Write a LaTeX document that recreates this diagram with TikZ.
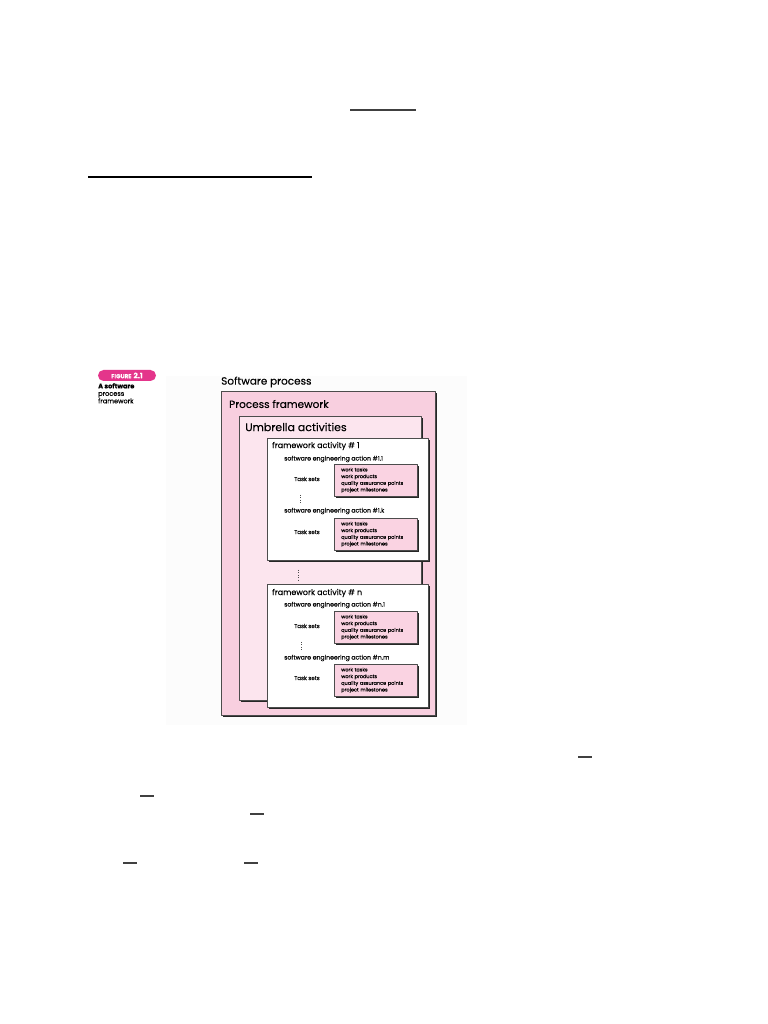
\documentclass[tikz,border=0pt]{standalone}
\usepackage{fontspec}
\setmainfont{Poppins}[FakeBold=0.15]
\usetikzlibrary{shadows}
\definecolor{outerpink}{HTML}{F8CFDF}
\definecolor{umbrellapink}{HTML}{FCE5EE}
\definecolor{taskpink}{HTML}{FAD3E2}
\definecolor{badgepink}{HTML}{E4358B}
\tikzset{
  panel/.style={draw=black!70,line width=0.5bp,anchor=north west,inner sep=0pt,
    drop shadow={shadow xshift=2bp,shadow yshift=-2bp,fill=black!85,opacity=1}},
  taskbox/.style={panel,fill=taskpink,minimum width=83bp,minimum height=32bp,
    text width=69bp,inner xsep=7bp,align=left,font=\fontsize{5}{6.7}\selectfont},
  label/.style={anchor=west,inner sep=0pt},
  bigtitle/.style={label,font=\fontsize{10.5}{12}\selectfont},
  acttitle/.style={label,font=\fontsize{8}{9}\selectfont},
  actiontitle/.style={label,font=\fontsize{6.2}{7}\selectfont},
  tasksets/.style={inner sep=0pt,font=\fontsize{5.6}{6.5}\selectfont},
  vdots/.style={line width=0.8bp,black!70,dash pattern=on 0.8bp off 1.6bp},
  stray/.style={line width=1.5bp,black!75},
}
\begin{document}
\begin{tikzpicture}[>=latex,line join=bevel,]
\useasboundingbox [fill=white] (0bp,0bp) rectangle (768bp,1024bp);
%% stray rules on the page
\draw [stray] (350bp,914bp) -- (416bp,914bp);
\draw [stray,line width=2bp,black] (88bp,847bp) -- (312bp,847bp);
\draw [stray] (578bp,267bp) -- (592bp,267bp);
\draw [stray] (140bp,228bp) -- (154bp,228bp);
\draw [stray] (250bp,210bp) -- (264bp,210bp);
\draw [stray] (123bp,161bp) -- (137bp,161bp);
\draw [stray] (244bp,161bp) -- (258bp,161bp);
%% figure tag
\fill [gray!2] (166bp,648bp) rectangle (467bp,299bp);
\node (fig_badge) at (127bp,648.5bp) [fill=badgepink,rounded corners=5.5bp,minimum width=58bp,minimum height=11bp,inner sep=0pt,text=white,font=\bfseries] {{\fontsize{5.8}{6}\selectfont FIGURE} {\fontsize{7.5}{8}\selectfont 2.1}};
\node (fig_caption) at (98bp,641bp) [anchor=north west,align=left,inner sep=0pt,font=\fontsize{6.6}{7.5}\selectfont] {\textbf{A software}\\process\\framework};
%% nested boxes
\node (process_box) at (221bp,633bp) [panel,fill=outerpink,minimum width=214bp,minimum height=324bp] {};
\node (umbrella_box) at (239bp,608bp) [panel,fill=umbrellapink,minimum width=182bp,minimum height=284bp] {};
\node (activity_1) at (267bp,586bp) [panel,fill=white,minimum width=161bp,minimum height=122bp] {};
\node (activity_n) at (267bp,440bp) [panel,fill=white,minimum width=161bp,minimum height=123bp] {};
%
\node (software_process) at (221bp,642bp) [bigtitle] {Software process};
\node (process_framework) at (229bp,620bp) [bigtitle] {Process framework};
\node (umbrella_activities) at (245bp,597bp) [bigtitle,font=\fontsize{11}{12}\selectfont] {Umbrella activities};
%% framework activity 1
\node (act_1_title) at (272bp,578bp) [acttitle] {framework activity \# 1};
\node (action_1_1) at (284bp,565bp) [actiontitle] {software engineering action \#1.1};
\node (tasks_1_1) at (334bp,560bp) [taskbox] {work tasks\\work products\\quality assurance points\\project milestones};
\node (sets_1_1) at (307bp,545bp) [tasksets] {Task sets};
\draw [vdots] (300bp,529bp) -- (300bp,521bp);
\node (action_1_k) at (284bp,513bp) [actiontitle] {software engineering action \#1.k};
\node (tasks_1_k) at (334bp,506bp) [taskbox] {work tasks\\work products\\quality assurance points\\project milestones};
\node (sets_1_k) at (307bp,492bp) [tasksets] {Task sets};
%
\draw [vdots] (298bp,454bp) -- (298bp,444bp);
%% framework activity n
\node (act_n_title) at (272bp,431bp) [acttitle] {framework activity \# n};
\node (action_n_1) at (284bp,419bp) [actiontitle] {software engineering action \#n.1};
\node (tasks_n_1) at (334bp,413bp) [taskbox] {work tasks\\work products\\quality assurance points\\project milestones};
\node (sets_n_1) at (307bp,398bp) [tasksets] {Task sets};
\draw [vdots] (301bp,382bp) -- (301bp,374bp);
\node (action_n_m) at (284bp,366bp) [actiontitle] {software engineering action \#n.m};
\node (tasks_n_m) at (334bp,360bp) [taskbox] {work tasks\\work products\\quality assurance points\\project milestones};
\node (sets_n_m) at (307bp,346bp) [tasksets] {Task sets};
%
\end{tikzpicture}
\end{document}
